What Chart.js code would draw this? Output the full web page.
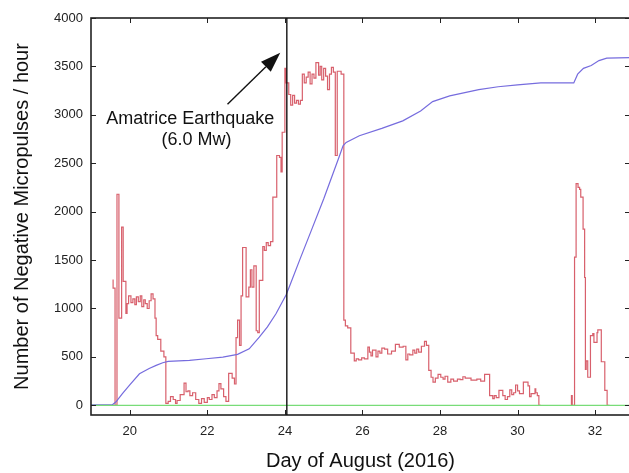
<!DOCTYPE html>
<html>
<head>
<meta charset="utf-8">
<script src="https://cdn.jsdelivr.net/npm/chart.js@4.4.1/dist/chart.umd.min.js"></script>
<style>
  html, body { margin: 0; padding: 0; background: #fff; overflow: hidden; }
  #wrap { width: 632px; height: 473px; }
</style>
</head>
<body>
<div id="wrap"><canvas id="c" width="632" height="473"></canvas></div>
<script>
// Axis ticks
const xTicks = [20, 22, 24, 26, 28, 30, 32];
const yTicks = [0, 500, 1000, 1500, 2000, 2500, 3000, 3500, 4000];

// Time of the main shock (day of August)
const quakeDay = 24.05;

// Hourly count of negative micropulses: each value holds from its day until the next one
// (null = no recording)
const pulseDay = [
  19.57, 19.62, 19.67, 19.72, 19.79, 19.83, 19.90, 19.93, 19.97, 20.03,
  20.08, 20.13, 20.17, 20.22, 20.27, 20.31, 20.36, 20.40, 20.45, 20.50,
  20.55, 20.60, 20.65, 20.68, 20.72, 20.80, 20.88, 20.93, 20.99, 21.05,
  21.12, 21.18, 21.22, 21.30, 21.40, 21.45, 21.50, 21.55, 21.62, 21.70,
  21.78, 21.85, 21.92, 22.00, 22.05, 22.12, 22.18, 22.25, 22.30, 22.35,
  22.42, 22.48, 22.55, 22.64, 22.70, 22.74, 22.78, 22.83, 22.87, 22.91,
  23.00, 23.07, 23.11, 23.15, 23.20, 23.26, 23.30, 23.34, 23.43, 23.47,
  23.52, 23.57, 23.63, 23.69, 23.79, 23.86, 23.90, 23.93, 24.00, 24.03,
  24.10, 24.15, 24.20, 24.25, 24.30, 24.35, 24.40, 24.45, 24.50, 24.55,
  24.60, 24.65, 24.70, 24.75, 24.80, 24.87, 24.91, 24.95, 25.00, 25.05,
  25.10, 25.15, 25.20, 25.25, 25.30, 25.35, 25.45, 25.52, 25.56, 25.62,
  25.70, 25.79, 25.84, 25.90, 25.98, 26.05, 26.14, 26.18, 26.22, 26.26,
  26.35, 26.40, 26.45, 26.50, 26.57, 26.65, 26.75, 26.85, 26.95, 27.05,
  27.12, 27.17, 27.22, 27.30, 27.35, 27.40, 27.45, 27.52, 27.60, 27.65,
  27.71, 27.77, 27.82, 27.88, 27.95, 28.02, 28.08, 28.13, 28.20, 28.28,
  28.35, 28.45, 28.52, 28.59, 28.65, 28.80, 28.95, 29.05, 29.15, 29.28,
  29.36, 29.40, 29.45, 29.52, 29.62, 29.68, 29.74, 29.80, 29.85, 29.90,
  29.95, 30.00, 30.05, 30.15, 30.27, 30.31, 30.35, 30.45, 30.47, 30.51,
  30.55, 30.60, 30.61, 31.39, 31.41, 31.47, 31.51, 31.56, 31.60, 31.63,
  31.69, 31.73, 31.75, 31.77, 31.81, 31.88, 31.94, 31.97, 32.05, 32.07,
  32.16, 32.25, 32.31, 32.37
];
const pulseCount = [
  1300, 1210, 0, 2180, 900, 1840, 1280, 950, 1050, 1130,
  1060, 1100, 1040, 1120, 1070, 1130, 1020, 1090, 1050, 1000,
  1080, 1150, 1100, 900, 720, 680, 560, 500, 20, 40,
  90, 60, 20, 50, 110, 230, 140, 150, 100, 130,
  60, 20, 70, 30, 80, 60, 110, 80, 150, 225,
  170, 90, 40, 330, 280, 220, 700, 880, 620, 1130,
  1630, 1120, 1220, 1400, 1220, 1440, 770, 750, 1290, 1640,
  1600, 1680, 1650, 1690, 2150, 2580, 2560, 2410, 2820, 3480,
  3330, 3210, 3100, 3200, 3120, 3150, 3110, 3150, 3420, 3330,
  3390, 3440, 3320, 3420, 3380, 3540, 3410, 3500, 3360, 3480,
  3400, 3260, 3420, 3490, 3440, 2580, 3450, 3420, 880, 820,
  800, 540, 460, 480, 470, 490, 480, 600, 550, 510,
  570, 500, 560, 540, 590, 580, 530, 560, 630, 600,
  610, 470, 530, 520, 570, 540, 580, 550, 610, 660,
  620, 360, 290, 240, 280, 320, 290, 270, 300, 240,
  270, 250, 270, 265, 295, 280, 260, 270, 250, 320,
  100, 70, 100, 80, 155, 100, 60, 90, 160, 110,
  130, 210, 150, 120, 240, 200, 90, 120, 170, 130,
  100, 0, null, 0, 100, 0, 1530, 2290, 2250, 2230,
  2150, 1820, 1320, 370, 460, 290, 720, 740, 650, 750,
  780, 450, 155, 0
];

// Running curve drawn on the same count scale
const curveDay = [
  19.0, 19.55, 19.64, 19.81, 20.0, 20.25, 20.5, 20.68, 20.85, 20.99,
  21.54, 21.97, 22.4, 22.78, 23.08, 23.34, 23.55, 23.77, 24.03, 24.12,
  24.4, 24.68, 25.0, 25.4, 25.5, 25.58, 25.92, 26.5, 27.04, 27.5,
  27.81, 28.25, 29.0, 29.5, 30.0, 30.6, 31.45, 31.55, 31.7, 31.9,
  32.1, 32.3, 32.9
];
const curveValue = [
  5, 5, 34, 120, 210, 326, 380, 412, 440, 453,
  464, 481, 498, 526, 584, 704, 810, 945, 1140, 1230,
  1520, 1804, 2130, 2567, 2680, 2715, 2784, 2860, 2938, 3040,
  3137, 3196, 3260, 3290, 3310, 3330, 3330, 3420, 3480, 3510,
  3560, 3585, 3590
];

// Zero reference
const baseDay = [19.0, 32.9];
const baseValue = [0, 0];

const toXY = (xs, ys) => xs.map((x, i) => ({ x: x, y: ys[i] }));

const FONT = "'Liberation Sans', Arial, Helvetica, sans-serif";
const INK = '#222';

// Box, inward ticks on all four sides, quake marker and its label
const framePlugin = {
  id: 'frame',
  afterDatasetsDraw(chart) {
    const { ctx, chartArea: a, scales: { x, y } } = chart;
    ctx.save();
    ctx.strokeStyle = INK;
    ctx.lineWidth = 1;
    const tl = 5;
    ctx.beginPath();
    xTicks.forEach(v => {
      const px = Math.round(x.getPixelForValue(v)) + 0.5;
      ctx.moveTo(px, a.bottom); ctx.lineTo(px, a.bottom - tl);
      ctx.moveTo(px, a.top); ctx.lineTo(px, a.top + tl);
    });
    yTicks.forEach(v => {
      const py = Math.round(y.getPixelForValue(v)) + 0.5;
      ctx.moveTo(a.left, py); ctx.lineTo(a.left + tl, py);
      ctx.moveTo(a.right, py); ctx.lineTo(a.right - tl, py);
    });
    ctx.stroke();

    ctx.lineWidth = 1.6;
    ctx.strokeRect(a.left, a.top, a.right - a.left, a.bottom - a.top);

    // vertical marker
    const qx = x.getPixelForValue(quakeDay);
    ctx.strokeStyle = '#111';
    ctx.lineWidth = 1.4;
    ctx.beginPath();
    ctx.moveTo(qx, a.top); ctx.lineTo(qx, a.bottom);
    ctx.stroke();

    // arrow
    const sx = x.getPixelForValue(22.52), sy = y.getPixelForValue(3110);
    const ex = x.getPixelForValue(23.88), ey = y.getPixelForValue(3640);
    const ang = Math.atan2(ey - sy, ex - sx);
    const headLen = 20, headW = 7;
    const bx = ex - headLen * Math.cos(ang), by = ey - headLen * Math.sin(ang);
    ctx.lineWidth = 1.4;
    ctx.beginPath();
    ctx.moveTo(sx, sy); ctx.lineTo(bx, by);
    ctx.stroke();
    ctx.fillStyle = '#111';
    ctx.beginPath();
    ctx.moveTo(ex, ey);
    ctx.lineTo(bx + headW * Math.sin(ang), by - headW * Math.cos(ang));
    ctx.lineTo(bx - headW * Math.sin(ang), by + headW * Math.cos(ang));
    ctx.closePath();
    ctx.fill();

    // label
    ctx.fillStyle = '#111';
    ctx.font = '18px ' + FONT;
    ctx.textAlign = 'center';
    ctx.textBaseline = 'middle';
    ctx.fillText('Amatrice Earthquake', x.getPixelForValue(21.56), y.getPixelForValue(2960));
    ctx.fillText('(6.0 Mw)', x.getPixelForValue(21.72), y.getPixelForValue(2735));
    ctx.restore();
  }
};

new Chart(document.getElementById('c'), {
  type: 'line',
  data: {
    datasets: [
      {
        data: toXY(baseDay, baseValue),
        borderColor: 'rgb(120, 220, 120)',
        borderWidth: 1.2,
        pointRadius: 0,
        order: 0
      },
      {
        data: toXY(curveDay, curveValue),
        borderColor: 'rgb(118, 108, 222)',
        borderWidth: 1.2,
        pointRadius: 0,
        tension: 0,
        order: 1
      },
      {
        data: toXY(pulseDay, pulseCount),
        borderColor: 'rgb(216, 96, 108)',
        borderWidth: 1.2,
        pointRadius: 0,
        stepped: 'after',
        spanGaps: false,
        order: 2
      }
    ]
  },
  options: {
    responsive: false,
    animation: false,
    events: [],
    layout: { padding: { top: 18, right: 2, left: 0, bottom: 0 } },
    plugins: { legend: { display: false }, tooltip: { enabled: false } },
    scales: {
      x: {
        type: 'linear',
        min: 19,
        max: 32.9,
        afterBuildTicks: s => { s.ticks = xTicks.map(v => ({ value: v })); },
        afterFit: s => { s.height = 58; },
        grid: { display: false, drawTicks: false },
        border: { display: false },
        ticks: {
          color: INK, padding: 9, maxRotation: 0,
          font: { family: FONT, size: 13 },
          callback: v => String(v)
        },
        title: {
          display: true,
          text: 'Day of August (2016)',
          color: '#111',
          font: { family: FONT, size: 20 },
          padding: { top: 0, bottom: 0 }
        }
      },
      y: {
        type: 'linear',
        min: -100,
        max: 4000,
        afterBuildTicks: s => { s.ticks = yTicks.map(v => ({ value: v })); },
        afterFit: s => { s.width = 91; },
        grid: { display: false, drawTicks: false },
        border: { display: false },
        ticks: {
          color: INK, padding: 8,
          font: { family: FONT, size: 13 },
          callback: v => String(v)
        },
        title: {
          display: true,
          text: 'Number of Negative Micropulses / hour',
          color: '#111',
          font: { family: FONT, size: 20 },
          padding: { top: 10, bottom: 0 }
        }
      }
    }
  },
  plugins: [framePlugin]
});
</script>
</body>
</html>
